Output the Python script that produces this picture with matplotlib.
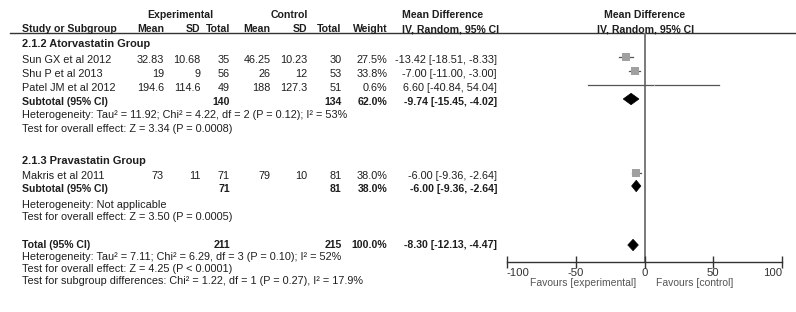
import matplotlib
matplotlib.use("Agg")
import matplotlib.pyplot as plt
from matplotlib.patches import Polygon

plt.rcParams['font.family'] = ['Liberation Sans', 'DejaVu Sans']

# ---------------- data ----------------
studies = ["Sun GX et al 2012", "Shu P et al 2013", "Patel JM et al 2012", "Makris et al 2011"]
exp_mean = [32.83, 19, 194.6, 73]
exp_sd = [10.68, 9, 114.6, 11]
exp_n = [35, 56, 49, 71]
ctl_mean = [46.25, 26, 188, 79]
ctl_sd = [10.23, 12, 127.3, 10]
ctl_n = [30, 53, 51, 81]
weight = [27.5, 33.8, 0.6, 38.0]
md = [-13.42, -7.00, 6.60, -6.00]
ci_lo = [-18.51, -11.00, -40.84, -9.36]
ci_hi = [-8.33, -3.00, 54.04, -2.64]

groups = ["2.1.2 Atorvastatin Group", "2.1.3 Pravastatin Group"]
sub_exp_n = [140, 71]
sub_ctl_n = [134, 81]
sub_weight = [62.0, 38.0]
sub_md = [-9.74, -6.00]
sub_lo = [-15.45, -9.36]
sub_hi = [-4.02, -2.64]
sub_het = ["Heterogeneity: Tau\u00b2 = 11.92; Chi\u00b2 = 4.22, df = 2 (P = 0.12); I\u00b2 = 53%",
           "Heterogeneity: Not applicable"]
sub_test = ["Test for overall effect: Z = 3.34 (P = 0.0008)",
            "Test for overall effect: Z = 3.50 (P = 0.0005)"]

tot_exp_n = 211
tot_ctl_n = 215
tot_weight = 100.0
tot_md = -8.30
tot_lo = -12.13
tot_hi = -4.47
tot_notes = ["Heterogeneity: Tau\u00b2 = 7.11; Chi\u00b2 = 6.29, df = 3 (P = 0.10); I\u00b2 = 52%",
             "Test for overall effect: Z = 4.25 (P < 0.0001)",
             "Test for subgroup differences: Chi\u00b2 = 1.22, df = 1 (P = 0.27), I\u00b2 = 17.9%"]

xticks = [-100, -50, 0, 50, 100]
fav_left = "Favours [experimental]"
fav_right = "Favours [control]"

# ---------------- layout (pixel rows) ----------------
W, H = 796, 312
group_y = [44, 160.5]
study_y = [60, 74, 88, 176]
sub_y = [102, 189]
het_y = [[115.5, 128.5], [205, 217.5]]
tot_y = 245.5
tot_note_y = [257, 269, 281]

TXT = '#1e1e1e'
FS = 7.8
FSB = 7.6
FSN = 7.8

fig = plt.figure(figsize=(W / 100, H / 100), dpi=100)
ax = fig.add_axes([0, 0, 1, 1])
ax.set_xlim(0, W)
ax.set_ylim(H, 0)
ax.axis('off')

x_name = 22
col_right = [164, 200.5, 230, 270.5, 307, 341.5, 387.5]
x_ci_right = 497
x_mdhdr = 402


def t(x, y, s, ha='left', bold=False, size=None, color=TXT):
    if size is None:
        size = FSB if bold else FS
    ax.text(x, y, s, ha=ha, va='center', fontsize=size,
            fontweight='bold' if bold else 'normal', color=color)


# headers
t(180, 15, "Experimental", ha='center', bold=True)
t(289, 15, "Control", ha='center', bold=True)
t(x_mdhdr, 15, "Mean Difference", bold=True)
t(x_mdhdr, 29.5, "IV, Random, 95% CI", bold=True)
t(645, 15, "Mean Difference", ha='center', bold=True)
t(645.5, 29.5, "IV, Random, 95% CI", ha='center', bold=True)
t(x_name, 29.5, "Study or Subgroup", bold=True)
for x, s in zip(col_right, ["Mean", "SD", "Total", "Mean", "SD", "Total", "Weight"]):
    t(x, 29.5, s, ha='right', bold=True)
ax.plot([10, W], [33, 33], color='#333333', lw=1.0)


def fmt_ci(m, lo, hi):
    return f"{m:.2f} [{lo:.2f}, {hi:.2f}]"


# study rows
for i, name in enumerate(studies):
    y = study_y[i]
    t(x_name, y, name)
    vals = [f"{exp_mean[i]:g}", f"{exp_sd[i]:g}", f"{exp_n[i]}",
            f"{ctl_mean[i]:g}", f"{ctl_sd[i]:g}", f"{ctl_n[i]}", f"{weight[i]:.1f}%"]
    for x, s in zip(col_right, vals):
        t(x, y, s, ha='right')
    t(x_ci_right, y, fmt_ci(md[i], ci_lo[i], ci_hi[i]), ha='right')

# group rows
for g, name in enumerate(groups):
    t(x_name, group_y[g], name, bold=True, size=7.9)
    y = sub_y[g]
    t(x_name, y, "Subtotal (95% CI)", bold=True)
    t(col_right[2], y, f"{sub_exp_n[g]}", ha='right', bold=True)
    t(col_right[5], y, f"{sub_ctl_n[g]}", ha='right', bold=True)
    t(col_right[6], y, f"{sub_weight[g]:.1f}%", ha='right', bold=True)
    t(x_ci_right, y, fmt_ci(sub_md[g], sub_lo[g], sub_hi[g]), ha='right', bold=True)
    t(x_name, het_y[g][0], sub_het[g], size=FSN)
    t(x_name, het_y[g][1], sub_test[g], size=FSN)

# total
t(x_name, tot_y, "Total (95% CI)", bold=True)
t(col_right[2], tot_y, f"{tot_exp_n}", ha='right', bold=True)
t(col_right[5], tot_y, f"{tot_ctl_n}", ha='right', bold=True)
t(col_right[6], tot_y, f"{tot_weight:.1f}%", ha='right', bold=True)
t(x_ci_right, tot_y, fmt_ci(tot_md, tot_lo, tot_hi), ha='right', bold=True)
for s, y in zip(tot_notes, tot_note_y):
    t(x_name, y, s, size=FSN)

# ---------------- forest axes ----------------
x0, x1 = 506.7, 782.3
ytop, ybot = 33, 262
fx = fig.add_axes([x0 / W, (H - ybot) / H, (x1 - x0) / W, (ybot - ytop) / H])
fx.set_xlim(xticks[0], xticks[-1])
fx.set_ylim(ybot, ytop)
fx.patch.set_alpha(0)
for s in ['top', 'left', 'right']:
    fx.spines[s].set_visible(False)
fx.spines['bottom'].set_color('#333333')
fx.spines['bottom'].set_linewidth(1.0)
fx.set_yticks([])
fx.set_xticks(xticks)
fx.set_xticklabels([f"{v}" for v in xticks])
fx.tick_params(axis='x', direction='inout', length=8, width=1.0, color='#333333',
               labelsize=8.2, labelcolor='#333333', pad=0.3)
labels = fx.get_xticklabels()
labels[0].set_ha('left')
labels[-1].set_ha('right')
fx.axvline(0, color='#707070', lw=1.3, zorder=1)

MSHIFT = -3.0
for i in range(len(studies)):
    y = study_y[i] + MSHIFT
    fx.plot([ci_lo[i], ci_hi[i]], [y, y], color='#555555', lw=0.9, zorder=2)
    fx.plot([md[i]], [y], marker='s', ms=1.05 * weight[i] ** 0.5,
            color='#a0a0a0', mew=0, zorder=3)


def diamond(lo, m, hi, y, hh=5.7):
    fx.add_patch(Polygon([[lo, y], [m, y - hh], [hi, y], [m, y + hh]],
                         closed=True, facecolor='black', edgecolor='black',
                         lw=0.5, zorder=4))


for g in range(len(groups)):
    diamond(sub_lo[g], sub_md[g], sub_hi[g], sub_y[g] - 3.0)
diamond(tot_lo, tot_md, tot_hi, tot_y - 0.5)

ax.text(636, 283, fav_left, ha='right', va='center', fontsize=7.5, color='#555555')
ax.text(655.5, 283, fav_right, ha='left', va='center', fontsize=7.5, color='#555555')

fig.savefig("out.png", dpi=100)
